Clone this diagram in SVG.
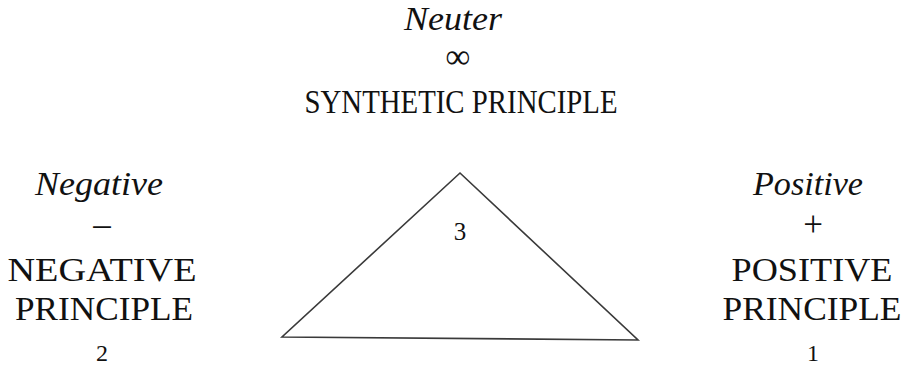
<svg xmlns="http://www.w3.org/2000/svg" width="907" height="367" viewBox="0 0 907 367">
<style>
text{font-family:"Liberation Serif","Times New Roman",serif;fill:#111;text-anchor:middle}
.it{font-style:italic;font-size:34px}
.cap{font-size:34px}
.syn{font-size:33px}
.sym{font-size:35px}
.num{font-size:24px}
.tri{fill:none;stroke:#3a3a3a;stroke-width:1.6;stroke-linejoin:miter}
</style>
<rect width="907" height="367" fill="#fff"/>
<g id="neuter" font-family="Liberation Serif, serif">
<text class="it" x="453" y="30" textLength="98" lengthAdjust="spacingAndGlyphs">Neuter</text>
<text class="sym" x="458" y="68">∞</text>
<text class="syn" x="461" y="113" textLength="313" lengthAdjust="spacingAndGlyphs">SYNTHETIC PRINCIPLE</text>
</g>
<g id="negative" font-family="Liberation Serif, serif">
<text class="it" x="99" y="195" textLength="128" lengthAdjust="spacingAndGlyphs">Negative</text>
<text class="sym" x="102" y="236">–</text>
<text class="cap" x="102" y="281" textLength="189" lengthAdjust="spacingAndGlyphs">NEGATIVE</text>
<text class="cap" x="104" y="320" textLength="178" lengthAdjust="spacingAndGlyphs">PRINCIPLE</text>
<text class="num" x="102" y="361">2</text>
</g>
<g id="positive" font-family="Liberation Serif, serif">
<text class="it" x="808" y="195" textLength="110" lengthAdjust="spacingAndGlyphs">Positive</text>
<text class="sym" x="813" y="236">+</text>
<text class="cap" x="812" y="281" textLength="161" lengthAdjust="spacingAndGlyphs">POSITIVE</text>
<text class="cap" x="812" y="320" textLength="179" lengthAdjust="spacingAndGlyphs">PRINCIPLE</text>
<text class="num" x="813" y="361">1</text>
</g>
<g id="triangle" font-family="Liberation Serif, serif">
<polygon class="tri" points="460,173 282,337 638,340"/>
<text x="460" y="240" style="font-size:25px">3</text>
</g>
<g id="connectors"></g>
</svg>
